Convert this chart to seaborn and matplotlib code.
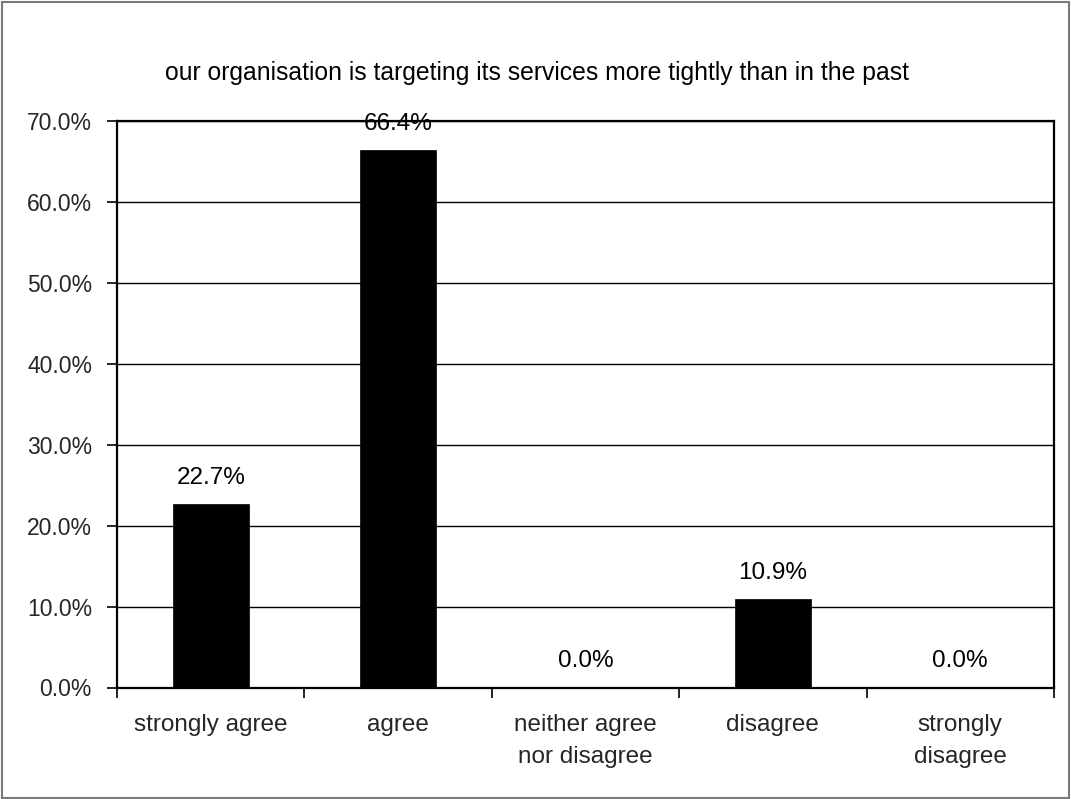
import matplotlib
matplotlib.use("Agg")
import matplotlib.pyplot as plt
import matplotlib.patches as mpatches
from matplotlib.ticker import FixedLocator, PercentFormatter
import seaborn as sns
import pandas as pd

# Survey responses
categories = ["strongly agree", "agree", "neither agree\nnor disagree",
              "disagree", "strongly\ndisagree"]
shares = [22.7, 66.4, 0.0, 10.9, 0.0]
title = "our organisation is targeting its services more tightly than in the past"
y_ticks = [0, 10, 20, 30, 40, 50, 60, 70]

sns.set_theme(style="white")
plt.rcParams["font.family"] = ["Liberation Sans", "DejaVu Sans"]

df = pd.DataFrame({"category": categories, "share": shares})

fig = plt.figure(figsize=(10.71, 7.99), dpi=100)
ax = fig.add_axes([117 / 1071, 1 - 687.5 / 799, (1054 - 117) / 1071, (687.5 - 121) / 799])

sns.barplot(data=df, x="category", y="share", color="black", width=0.405,
            saturation=1, ax=ax, edgecolor="black", linewidth=0.5, zorder=3)

ax.set_ylim(0, 70)
ax.set_xlim(-0.5, len(categories) - 0.5)
ax.yaxis.set_major_locator(FixedLocator(y_ticks))
ax.yaxis.set_major_formatter(PercentFormatter(decimals=1))
ax.grid(axis="y", color="black", linewidth=1.0, zorder=0)
ax.set_axisbelow(True)

for s in ax.spines.values():
    s.set_visible(True)
    s.set_color("black")
    s.set_linewidth(1.6)

# Category labels at centres, tick marks at category boundaries
ax.set_xticks(range(len(categories)))
ax.set_xticklabels(categories, fontsize=17.5, linespacing=1.6)
ax.tick_params(axis="x", which="major", length=0, pad=19)
ax.set_xticks([i - 0.5 for i in range(len(categories) + 1)], minor=True)
ax.tick_params(axis="x", which="minor", length=7, width=1.2, color="black",
               direction="out", bottom=True)
ax.tick_params(axis="y", which="major", length=7, width=1.2, color="black",
               direction="out", left=True, labelsize=16.5, pad=11)
for lbl in ax.get_xticklabels():
    lbl.set_verticalalignment("top")

ax.set_xlabel("")
ax.set_ylabel("")

# Value labels above each bar
for i, v in enumerate(shares):
    ax.annotate(f"{v:.1f}%", xy=(i, v), xytext=(0, 14.5), textcoords="offset points",
                ha="center", va="baseline", fontsize=17.5, color="black", zorder=5)

fig.text(537 / 1071, 1 - 73 / 799, title, ha="center", va="center", fontsize=17.8,
         color="black")

# Outer frame around the whole chart
fig.patches.append(mpatches.Rectangle((1.5 / 1071, 1.5 / 799), 1067 / 1071, 795.5 / 799,
                                      transform=fig.transFigure, fill=False,
                                      edgecolor="#7a7a7a", linewidth=1.5))

fig.savefig("out.png", dpi=100, facecolor="white")
